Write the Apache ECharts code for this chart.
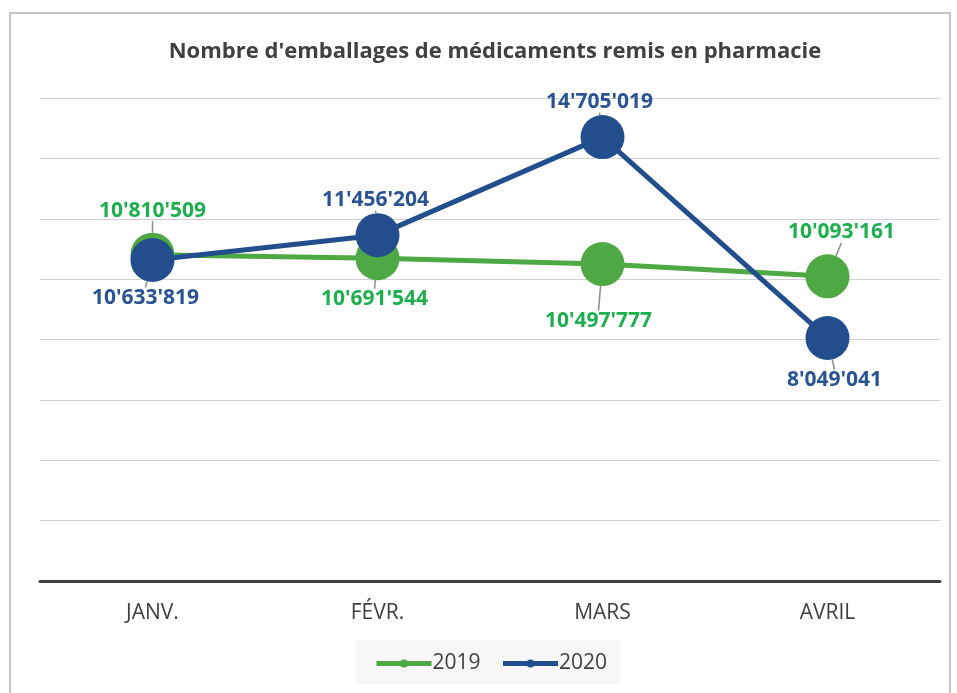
<!DOCTYPE html>
<html><head><meta charset="utf-8">
<script src="https://cdn.jsdelivr.net/npm/echarts@6/dist/echarts.min.js"></script>
<style>html,body{margin:0;padding:0;background:#fff}#c{width:957px;height:693px}</style>
</head><body><div id="c"></div>
<script>
const categories = ['JANV.', 'FÉVR.', 'MARS', 'AVRIL'];
const values2019 = [10810509, 10691544, 10497777, 10093161];
const values2020 = [10633819, 11456204, 14705019, 8049041];
const seriesNames = ['2019', '2020'];

// label offsets (style only)
const off2019 = [[0, -44], [-3, 41], [-4, 57], [14, -44]];
const off2020 = [[-7, 38], [-2, -35], [-3, -35], [7, 42]];

function fmt(v) { return String(v).replace(/\B(?=(\d{3})+(?!\d))/g, "'"); }

const chart = echarts.init(document.getElementById('c'));
const FONT = '"Open Sans", "Noto Sans", sans-serif';
function mkSeries(name, data, lineColor, labelColor, offs) {
  return {
    name, type: 'line', data,
    symbol: 'circle', symbolSize: 44,
    lineStyle: { width: 5, color: lineColor },
    itemStyle: { color: lineColor },
    label: {
      show: true, position: 'inside', formatter: p => fmt(p.value),
      color: labelColor, fontFamily: FONT, fontWeight: 'bold', fontSize: 21
    },
    labelLayout: p => ({ dx: offs[p.dataIndex][0], dy: offs[p.dataIndex][1] }),
    labelLine: { show: true, length2: 0, lineStyle: { color: '#8c8c8c', width: 1.5 } },
    emphasis: { disabled: true },
    animation: false
  };
}
chart.setOption({
  animation: false,
  title: {
    text: "Nombre d'emballages de médicaments remis en pharmacie",
    left: 490, top: 36, textAlign: 'center',
    textStyle: { fontFamily: FONT, fontWeight: 'bold', fontSize: 22, color: '#404040' }
  },
  graphic: [{
    type: 'rect', shape: { x: 10, y: 13, width: 940, height: 700 },
    style: { fill: 'none', stroke: '#c8c8c8', lineWidth: 2 }, silent: true, z: -1
  }, {
    type: 'rect', shape: { x: 356, y: 640, width: 264, height: 44 },
    style: { fill: '#f7f7f7' }, silent: true, z: -1
  }],
  legend: {
    data: seriesNames, left: 369, top: 648,
    itemWidth: 55, itemHeight: 10, itemGap: 20,
    lineStyle: { width: 5 },
    textStyle: { fontFamily: FONT, fontSize: 21, color: '#404040', padding: [0, 0, 0, -4] }
  },
  grid: { left: 40, right: 17, top: 98, bottom: 112 },
  xAxis: {
    type: 'category', data: categories, boundaryGap: true,
    axisLine: { lineStyle: { color: '#404040', width: 3 } },
    axisTick: { show: false },
    axisLabel: { fontFamily: FONT, fontSize: 21, color: '#404040', margin: 22 }
  },
  yAxis: {
    type: 'value', min: 0, max: 16000000, interval: 2000000,
    axisLabel: { show: false }, axisLine: { show: false }, axisTick: { show: false },
    splitLine: { lineStyle: { color: '#d0d0d0', width: 1 } }
  },
  series: [
    mkSeries('2019', values2019, '#4EA843', '#1DAF4E', off2019),
    mkSeries('2020', values2020, '#234E8D', '#2A5394', off2020)
  ]
});
</script></body></html>
